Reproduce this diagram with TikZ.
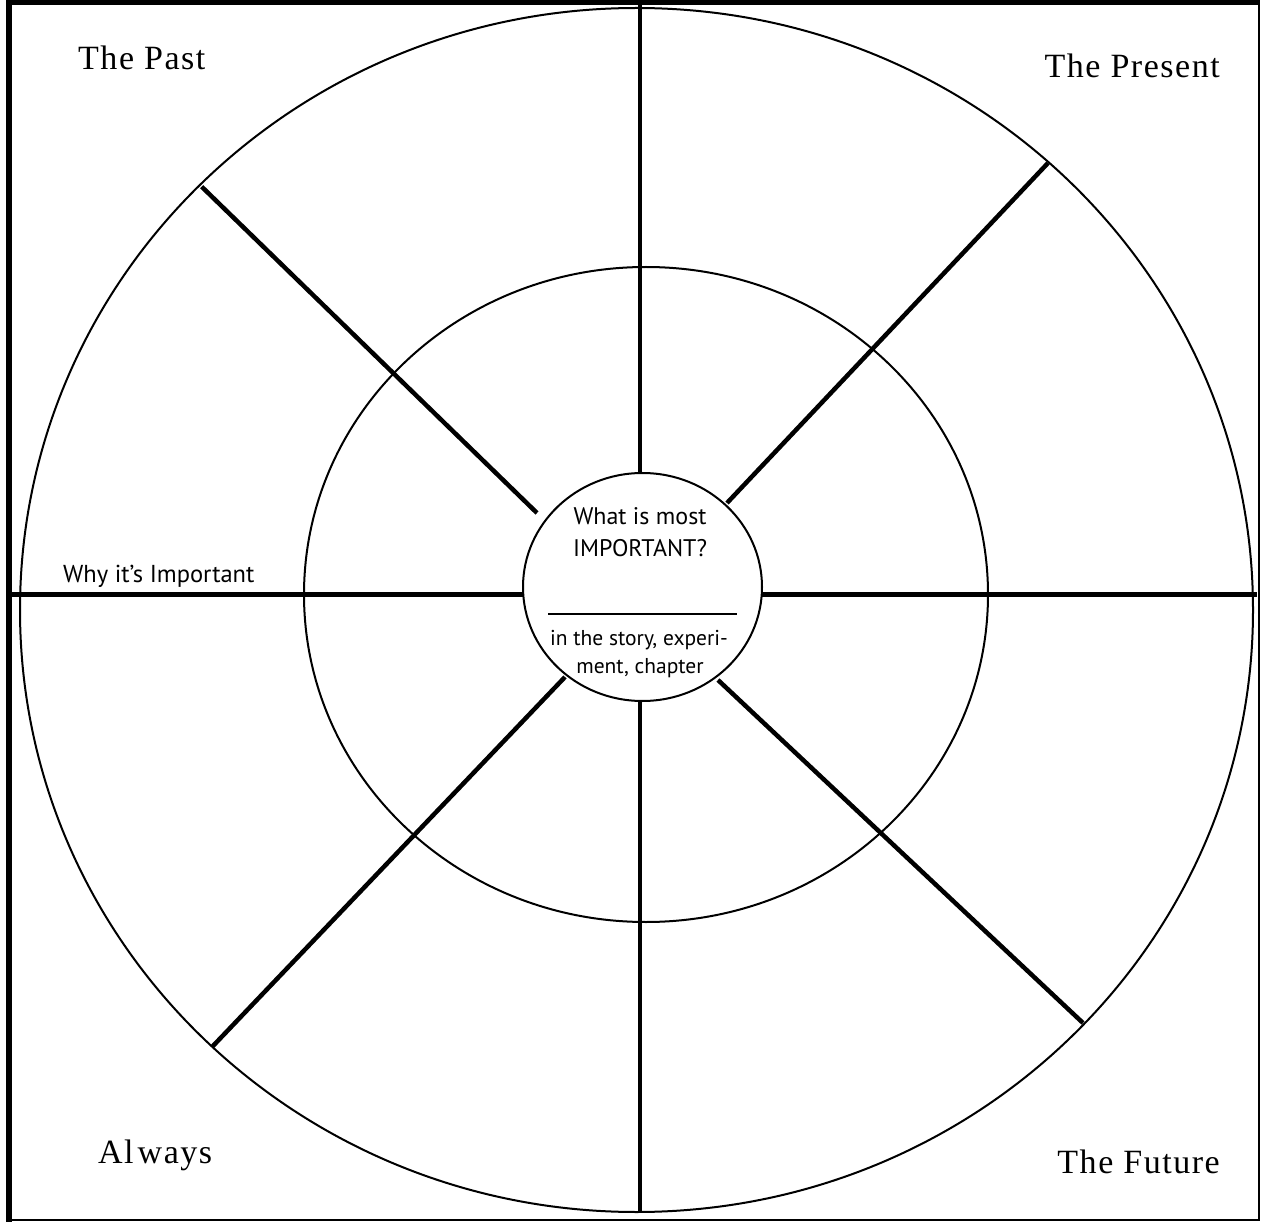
\documentclass[tikz,border=0pt]{standalone}
\usepackage{fontspec}
\setmainfont{Liberation Serif}[LetterSpace=4.5]
\newfontfamily\labelsans{PT Sans}
\begin{document}
\begin{tikzpicture}[x=1pt,y=-1pt,
  ring/.style={line width=2pt},
  spoke/.style={line width=4.5pt},
  corner/.style={font=\fontsize{34}{40}\selectfont, inner sep=0pt},
  inner/.style={font=\labelsans\fontsize{24}{28}\selectfont, inner sep=0pt},
  small/.style={font=\labelsans\fontsize{21.5}{25}\selectfont, inner sep=0pt},
  side/.style={font=\labelsans\fontsize{24.5}{28}\selectfont, inner sep=0pt}]
\useasboundingbox (0,0) rectangle (1262,1222);
% frame
\draw[line width=5pt] (6,2.5) -- (1260,2.5);
\draw[line width=6pt] (9,0) -- (9,1222);
\draw[line width=2.5pt] (1258.8,2) -- (1258.8,1220.5);
\draw[line width=2.5pt] (6,1219.8) -- (1260,1219.8);
% rings
\draw[ring] (636.5,610) ellipse [x radius=616.5pt, y radius=602pt];
\draw[ring] (646,594.5) ellipse [x radius=342pt, y radius=327.5pt];
% spoke endpoints
\coordinate (ntop) at (640,5);
\coordinate (nin) at (640,474);
\coordinate (sbot) at (640,1212);
\coordinate (sin) at (640,700);
\coordinate (wout) at (11,594.5);
\coordinate (win) at (523,594.5);
\coordinate (eout) at (1257,594.5);
\coordinate (ein) at (762,594.5);
\coordinate (nwout) at (201.7,186.7);
\coordinate (nwin) at (537,513);
\coordinate (neout) at (1048,163);
\coordinate (nein) at (727,503);
\coordinate (swout) at (212,1047);
\coordinate (swin) at (565,677);
\coordinate (seout) at (1083,1023);
\coordinate (sein) at (718,680);
\draw[spoke] (ntop) -- (nin);
\draw[spoke] (sbot) -- (sin);
\draw[spoke] (wout) -- (win);
\draw[spoke] (eout) -- (ein);
\draw[spoke] (nwout) -- (nwin);
\draw[spoke] (neout) -- (nein);
\draw[spoke] (swout) -- (swin);
\draw[spoke] (seout) -- (sein);
% centre circle
\draw[ring, fill=white] (642.5,587) ellipse [x radius=119.5pt, y radius=114pt];
\coordinate (dl) at (548,614);
\coordinate (dr) at (737,614);
\draw[line width=2pt] (dl) -- (dr);
\node[inner, anchor=base] (q1) at (640,525) {What is most};
\node[inner, anchor=base] (q2) at (640,557) {IMPORTANT?};
\node[small, anchor=base] (s1) at (639,645) {in the story, experi-};
\node[small, anchor=base] (s2) at (640,673) {ment, chapter};
% labels
\node[side, anchor=base west] (why) at (63,583) {Why it’s Important};
\node[corner, anchor=base west] (past) at (78,70) {The Past};
\node[corner, anchor=base east] (present) at (1220,78) {The Present};
\node[corner, anchor=base west] (always) at (98,1163) {Al\hspace{4pt}ways};
\node[corner, anchor=base east] (future) at (1220,1173) {The Future};
\end{tikzpicture}
\end{document}
